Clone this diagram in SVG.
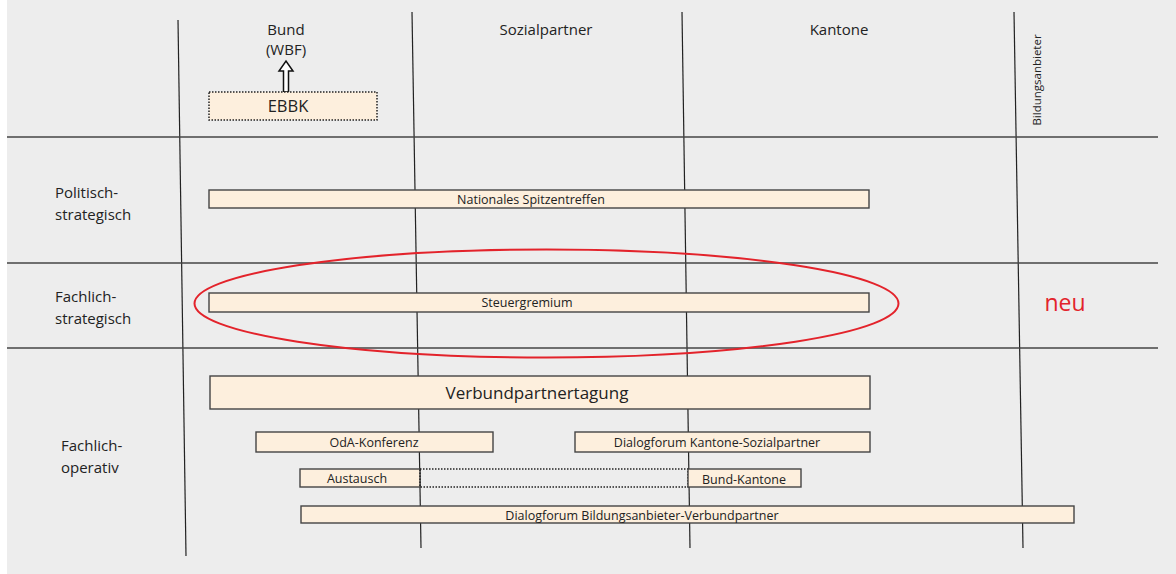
<svg xmlns="http://www.w3.org/2000/svg" width="1176" height="574" viewBox="0 0 1176 574">
<style>
.bg{fill:#ededed}
.ln{stroke:#222;stroke-width:1.2;fill:none}
.hl{stroke:#444;stroke-width:1.3;fill:none}
.box{fill:#fdefdd;stroke:#444;stroke-width:1.4}
.dot{fill:none;stroke:#222;stroke-width:1.5;stroke-dasharray:1.5 1.5}
text{font-family:"Open Sans","Noto Sans","Liberation Sans",sans-serif;fill:#222}
.t12{font-size:12.5px}
.t15{font-size:15px}
.hd{font-size:15px}
</style>
<rect x="0" y="0" width="1176" height="574" fill="#ffffff"/>
<rect class="bg" x="7" y="0" width="1169" height="574"/>
<g id="grid">
<line class="ln" x1="178" y1="20" x2="186" y2="556"/>
<line class="ln" x1="412" y1="12" x2="421" y2="548"/>
<line class="ln" x1="682" y1="12" x2="690" y2="548"/>
<line class="ln" x1="1014" y1="12" x2="1023" y2="548"/>
<line class="hl" x1="7" y1="137" x2="1158" y2="137"/>
<line class="hl" x1="7" y1="263" x2="1158" y2="263"/>
<line class="hl" x1="7" y1="348" x2="1158" y2="348"/>
</g>
<g id="headers">
<text class="hd" x="286" y="35" text-anchor="middle">Bund</text>
<text class="hd" x="286" y="55" text-anchor="middle">(WBF)</text>
<text class="hd" x="546" y="35" text-anchor="middle">Sozialpartner</text>
<text class="hd" x="839" y="35" text-anchor="middle">Kantone</text>
<text transform="translate(1040.5,80) rotate(-90)" text-anchor="middle" style="font-size:11.5px">Bildungsanbieter</text>
</g>
<g id="rows">
<text class="t15" x="55" y="198">Politisch-</text>
<text class="t15" x="55" y="220">strategisch</text>
<text class="t15" x="55" y="302">Fachlich-</text>
<text class="t15" x="55" y="324">strategisch</text>
<text class="t15" x="61" y="451">Fachlich-</text>
<text class="t15" x="61" y="473">operativ</text>
</g>
<g id="connectors">
<path d="M283.5,92 L283.5,71 L279,71 L286,61 L293,71 L288.5,71 L288.5,92 Z" fill="#fff" stroke="#111" stroke-width="1.5"/>
</g>
<g id="ebbk">
<rect x="209" y="92" width="168" height="28" fill="#fdefdd"/>
<rect class="dot" x="209" y="92" width="168" height="28"/>
<text x="288" y="112" text-anchor="middle" style="font-size:16.5px">EBBK</text>
</g>
<g id="spitzentreffen">
<rect class="box" x="209" y="190" width="660" height="18"/>
<text class="t12" x="531" y="204" text-anchor="middle">Nationales Spitzentreffen</text>
</g>
<g id="steuergremium">
<rect class="box" x="209" y="293" width="660" height="19"/>
<text class="t12" x="527" y="307" text-anchor="middle">Steuergremium</text>
</g>
<g id="highlight">
<ellipse cx="546.5" cy="303.5" rx="352" ry="54" fill="none" stroke="#e3232b" stroke-width="2"/>
<text x="1065" y="311" text-anchor="middle" style="font-size:23px;fill:#e3232b">neu</text>
</g>
<g id="verbundpartnertagung">
<rect class="box" x="210" y="376" width="660" height="33"/>
<text x="537" y="399" text-anchor="middle" style="font-size:17px">Verbundpartnertagung</text>
</g>
<g id="oda">
<rect class="box" x="256" y="432" width="237" height="20"/>
<text class="t12" x="374" y="447" text-anchor="middle">OdA-Konferenz</text>
</g>
<g id="dialog-ks">
<rect class="box" x="575" y="432" width="295" height="20"/>
<text class="t12" x="717" y="447" text-anchor="middle">Dialogforum Kantone-Sozialpartner</text>
</g>
<g id="austausch">
<rect class="box" x="300" y="469" width="120" height="18"/>
<text class="t12" x="357" y="483" text-anchor="middle">Austausch</text>
</g>
<g id="austausch-link">
<rect class="dot" x="420" y="469" width="268" height="18"/>
</g>
<g id="bund-kantone">
<rect class="box" x="688" y="469" width="113" height="18"/>
<text class="t12" x="744" y="484" text-anchor="middle">Bund-Kantone</text>
</g>
<g id="dialog-bv">
<rect class="box" x="301" y="506" width="773" height="17"/>
<text class="t12" x="642" y="520" text-anchor="middle">Dialogforum Bildungsanbieter-Verbundpartner</text>
</g>
</svg>
